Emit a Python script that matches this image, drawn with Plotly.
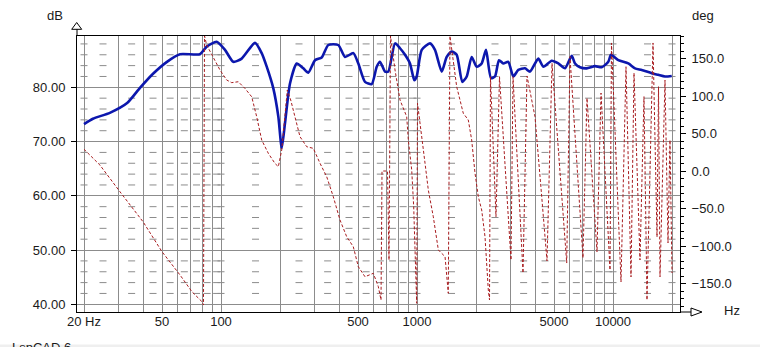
import plotly.graph_objects as go

# ---- magnitude response (dB) ----
mag_freq = [20, 22.2, 27.1, 33.2, 38.6, 45.0, 53.0, 61.8, 78.1, 84.5,
            95.1, 104.8, 115.5, 127.5, 149.1, 161.3, 171.1, 184.9, 196.1, 204.1,
            212.1, 224.9, 243.4, 263, 278.9, 301.8, 326.4, 352.7, 396.7, 429.3,
            473.2, 501.8, 542.9, 587.4, 622.9, 647.5, 686.6, 713.9, 772.4, 819,
            868.7, 921, 968.8, 996.3, 1057, 1165, 1235, 1337, 1418, 1503,
            1594, 1702, 1793, 1901, 2017, 2138, 2249, 2385, 2500, 2620,
            2756, 2923, 3099, 3288, 3556, 3772, 4158, 4411, 4867, 5260,
            5690, 6157, 6400, 6785, 7341, 8094, 8755, 9462, 9768, 10641,
            11970, 12950, 14010, 15750, 17030, 18420, 19930]
mag_db = [73.2, 74.2, 75.3, 77.1, 79.9, 82.5, 84.7, 86.1, 86.1, 87.5,
          88.4, 86.9, 84.7, 85.3, 88.2, 86.3, 83.8, 79.8, 74.6, 68.8,
          73.4, 80.7, 84.4, 83.5, 82.7, 85.0, 85.5, 87.8, 87.8, 85.6,
          86.3, 84.4, 81.0, 80.6, 83.8, 84.7, 82.9, 82.9, 88.1, 87.2,
          86.0, 84.4, 81.3, 82.0, 86.9, 88.1, 86.9, 82.9, 85.6, 86.6,
          86.0, 81.0, 82.0, 85.6, 83.8, 84.4, 86.9, 81.7, 82.0, 85.0,
          84.4, 84.7, 82.0, 83.2, 83.5, 82.9, 85.3, 83.8, 84.9, 84.4,
          83.5, 85.8, 84.4, 83.7, 83.5, 83.9, 83.7, 84.7, 86.0, 85.0,
          84.4, 83.5, 83.2, 82.6, 82.3, 82.0, 82.1]

# ---- phase response (deg, wrapped to +/-180) ----
phase_freq = [20, 24.1, 30.5, 40.0, 50.0, 61.8, 71.1, 80.0, 81.4, 82.4,
              84.5, 93.2, 98.8, 106.9, 113.4, 122.5, 132.6, 143.4, 152.1, 161.3,
              174.3, 188.6, 196.1, 204.1, 212.1, 217.9, 226.8, 238.5, 252.9, 273.6,
              295.8, 320, 346.2, 374.0, 404.7, 437.8, 473.2, 501.8, 542.9, 598.4,
              634.6, 655.2, 663, 707.2, 719.7, 732.5, 772.4, 819, 886.1, 903,
              939.8, 961.9, 976.8, 996.3, 1006, 1057, 1099, 1142, 1211, 1285,
              1390, 1444, 1473, 1594, 1722, 1827, 1901, 1977, 2055, 2138,
              2223, 2311, 2344, 2371, 2529, 2636, 3017, 3089, 3474, 3641,
              3999, 4328, 4605, 4885, 5805, 6034, 7028, 7367, 8287, 8686,
              9654, 9824, 10984, 11650, 12355, 12797, 13730, 14391, 14907, 16000,
              16770, 17070, 17370, 18420, 19080, 19530, 20000]
phase_deg = [29, 8, -27.6, -67.6, -107.6, -138.7, -161, -174.3, -178.7, 180,
             168, 148, 134.7, 121.3, 117.8, 119, 110, 99, 72.4, 41.3,
             23.6, 10, 5.8, 28, 81, 108, 94.7, 72.4, 45.8, 32.4,
             30.2, 10.3, -7.6, -34.3, -65.3, -87.6, -101, -127.6, -141, -136.4,
             -154, -172, 0, 0, -118.7, 180, 134.7, 94.7, 72.4, 41.3,
             1.3, -47.6, -118.7, -176.4, 90.3, 41.3, 10.3, -25.3, -61, -105.3,
             -114.2, -163, 180, 112.4, 77, 68, 41.3, -3, -34.3, -52,
             -87.6, -158.7, -172, 125.7, -60.9, 125.7, -118.7, 125.7, -136, 126.7,
             72.4, -34.3, -120, 143.6, -122.7, 152.4, -116, 97.3, -108, 104,
             -132, 170.7, -148, 139, -141.3, 130.7, -118.7, 99.1, -172, 170.7,
             -88, 112.4, -141.3, 121.3, -96, 41.3, -136]

x_ticks = [20, 50, 100, 500, 1000, 5000, 10000]
x_ticktext = ["20 Hz", "50", "100", "500", "1000", "5000", "10000"]

# ---- canvas geometry ----
W, H = 760, 347
L, R, T, B = 77, 80, 36, 35
PW, PH = W - L - R, H - T - B

GRID = "#8c8c8c"
FONT = "Liberation Sans, Arial, sans-serif"
TXT = "#1a1a1a"


def px(xp):
    return (xp - L) / PW


def py(yp):
    return (H - B - yp) / PH


# vertical grid: 1-9 steps in every decade from 20 Hz to 20 kHz
grid_freqs = [m * 10 ** e for e in (1, 2, 3, 4) for m in range(1, 10)
              if 20 <= m * 10 ** e <= 20000]
minor_freqs = [f for f in grid_freqs if f not in x_ticks]

# short dash marks of the fine grid (half steps, 2 dB apart)
dash_freqs = [(m + 0.5) * 10 ** e for e in (1, 2, 3, 4) for m in range(1, 10)
              if 20 < (m + 0.5) * 10 ** e < 20000] + [20, 100, 1000, 10000, 20000]
dash_levels = [v for v in range(42, 90, 2) if v % 10]
dash_x = [f for f in dash_freqs for _ in dash_levels]
dash_y = [v for _ in dash_freqs for v in dash_levels]

fig = go.Figure()

fig.add_trace(go.Scatter(
    x=dash_x, y=dash_y, mode="markers", hoverinfo="skip", showlegend=False,
    marker=dict(symbol="line-ew", size=5, line=dict(color=GRID, width=1)),
))

fig.add_trace(go.Scatter(
    x=phase_freq, y=phase_deg, yaxis="y2", mode="lines", showlegend=False,
    line=dict(color="#a81c1f", width=1, dash="3px,2px"),
))

fig.add_trace(go.Scatter(
    x=mag_freq, y=mag_db, mode="lines", showlegend=False,
    line=dict(color="#0c17ad", width=2.6, shape="spline", smoothing=0.6),
))

fig.update_layout(
    width=W, height=H,
    margin=dict(l=L, r=R, t=T, b=B, pad=0),
    paper_bgcolor="white", plot_bgcolor="white",
    font=dict(family=FONT, size=13, color=TXT),
    xaxis=dict(
        type="log", range=[1.2653, 4.3418],
        tickmode="array", tickvals=x_ticks, ticktext=x_ticktext,
        showgrid=True, gridcolor=GRID, gridwidth=1,
        minor=dict(tickmode="array", tickvals=minor_freqs, showgrid=True,
                   gridcolor=GRID, gridwidth=1, ticks=""),
        showline=True, linecolor="black", linewidth=1, mirror=True,
        ticks="", zeroline=False, ticklabelstandoff=-3,
    ),
    yaxis=dict(
        range=[38.58, 89.46], tickmode="linear", tick0=0, dtick=10,
        tickformat=".2f", showgrid=True, gridcolor=GRID, gridwidth=1,
        showline=True, linecolor="black", linewidth=1, mirror=True,
        ticks="outside", ticklen=5, tickcolor="black", zeroline=False,
        ticklabelstandoff=3,
    ),
    yaxis2=dict(
        overlaying="y", side="right", range=[-188, 180],
        tickmode="linear", tick0=0, dtick=50, tickformat=".1f",
        showgrid=False, zeroline=False, showline=False,
        ticks="outside", ticklen=5, tickcolor="black",
        minor=dict(tickmode="linear", tick0=0, dtick=10, ticks="outside",
                   ticklen=3, tickcolor="black"),
        ticklabelstandoff=3,
    ),
)

# axis extensions with open arrow heads
shapes = [
    dict(type="line", xref="paper", yref="paper",
         x0=px(77), x1=px(77), y0=py(36), y1=py(29),
         line=dict(color="black", width=1)),
    dict(type="path", xref="paper", yref="paper",
         path=f"M {px(76.7)} {py(22.5)} L {px(71.7)} {py(29.3)} "
              f"L {px(81.7)} {py(29.3)} Z",
         line=dict(color="black", width=1), fillcolor="white"),
    dict(type="line", xref="paper", yref="paper",
         x0=px(680), x1=px(691), y0=py(312), y1=py(312),
         line=dict(color="black", width=1)),
    dict(type="path", xref="paper", yref="paper",
         path=f"M {px(702)} {py(312)} L {px(691)} {py(308)} "
              f"L {px(691)} {py(316)} Z",
         line=dict(color="black", width=1), fillcolor="white"),
    dict(type="rect", xref="paper", yref="paper",
         x0=px(0), x1=px(W), y0=py(H), y1=py(344.5),
         line=dict(width=0), fillcolor="#efefef", layer="below"),
]
fig.update_layout(shapes=shapes)

labels = [("dB", 55, 15, "center"), ("deg", 703, 15, "center"),
          ("Hz", 732, 310, "center")]
annotations = [dict(text=t, xref="paper", yref="paper", x=px(xp), y=py(yp),
                    xanchor=xa, yanchor="middle", showarrow=False,
                    font=dict(family=FONT, size=13, color=TXT))
               for t, xp, yp, xa in labels]
# program name along the lower edge of the window
annotations.append(dict(text="LspCAD 6", xref="paper", yref="paper",
                        x=px(10), y=py(337.5), xanchor="left", yanchor="top",
                        showarrow=False,
                        font=dict(family=FONT, size=13, color=TXT)))
fig.update_layout(annotations=annotations)

fig.write_html("out.html")
